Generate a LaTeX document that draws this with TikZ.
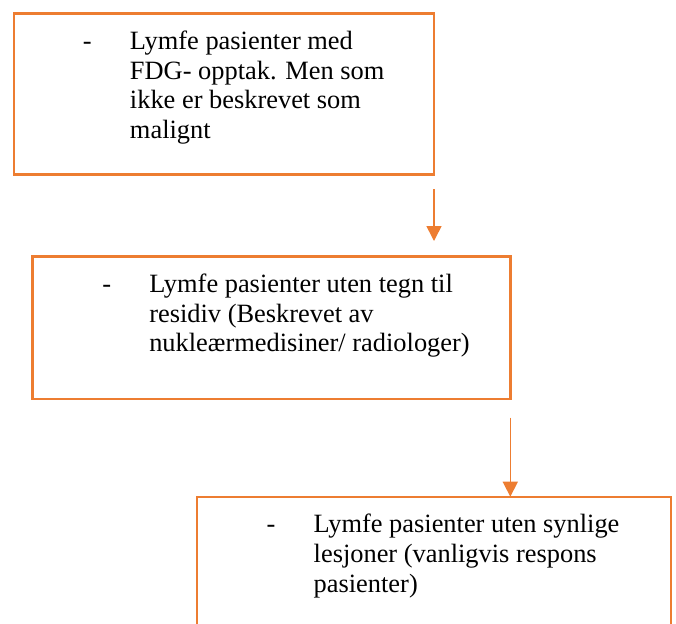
\documentclass[tikz,border=0pt]{standalone}
\usepackage{fontspec}
\setmainfont{Liberation Serif}
\usetikzlibrary{arrows.meta}
\definecolor{aksent}{HTML}{ED7D31}

% box width, box height, inset of the dash, lines
\newcommand{\punkt}[4]{%
  \parbox[c][#2][t]{#1}{\rule{0pt}{18pt}\hspace*{#3}\makebox[23.5pt][l]{-}%
  \begin{tabular}[t]{@{}l@{}}#4\end{tabular}}}

\begin{document}
\begin{tikzpicture}[
    every node/.style={font=\fontsize{13.2}{14.85}\selectfont},
    boks/.style={
        rectangle,
        draw=aksent,
        line width=1.2pt,
        inner sep=0pt,
        outer sep=0pt,
        anchor=north west
    },
    pil/.style={draw=aksent, line width=0.8pt, -{Triangle[width=7.5pt,length=7.5pt]}}
]
\path[use as bounding box, clip] (0,0) rectangle (338pt,-311.5pt);

\node (fdg) [boks] at (7pt,-6.65pt)
    {\punkt{210pt}{80.6pt}{34.5pt}{Lymfe pasienter med\\ FDG- opptak. Men som\\ ikke er beskrevet som\\ malignt}};

\node (residiv) [boks] at (16.15pt,-128.25pt)
    {\punkt{239pt}{71.25pt}{35pt}{Lymfe pasienter uten tegn til\\ residiv (Beskrevet av\\ nukle\ae rmedisiner/ radiologer)}};

\node (respons) [boks] at (98.35pt,-248.35pt)
    {\punkt{237pt}{80pt}{35pt}{Lymfe pasienter uten synlige\\ lesjoner (vanligvis respons\\ pasienter)}};

% Arrows
\draw[pil, shorten <=7.25pt, shorten >=7.75pt] (fdg.south east) -- (fdg.south east |- residiv.north);
\draw[pil, shorten <=9.3pt] (residiv.south east) -- (residiv.south east |- respons.north);

\end{tikzpicture}
\end{document}
